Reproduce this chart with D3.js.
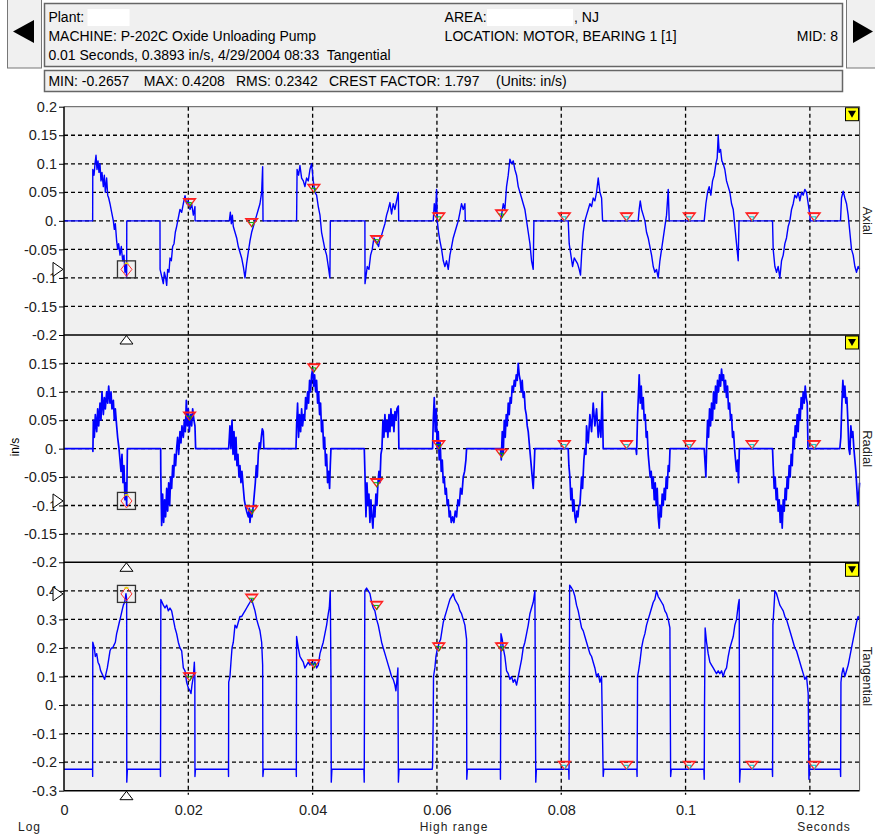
<!DOCTYPE html>
<html>
<head>
<meta charset="utf-8">
<script src="https://cdn.jsdelivr.net/npm/d3@7"></script>
<style>
  body { margin: 0; background: #fff; }
  text { font-family: "Liberation Sans", Arial, sans-serif; }
</style>
</head>
<body>
<script>
// time in ms, value in in/s
var axial = [[0,0],[4.61,0],[4.63,0.09],[4.83,0.08],[4.99,0.1],[5.15,0.115],[5.31,0.09],[5.47,0.105],[5.63,0.085],[5.79,0.1],
  [5.95,0.07],[6.11,0.085],[6.33,0.06],[6.49,0.08],[6.65,0.05],[6.86,0.075],[7.03,0.045],[7.19,0.04],[7.4,0.03],[7.67,0.015],
  [7.94,0],[8.1,-0.015],[8.26,-0.005],[8.47,-0.035],[8.63,-0.05],[8.79,-0.04],[9.01,-0.06],[9.22,-0.045],[9.44,-0.07],[9.65,-0.06],
  [9.81,-0.09],[9.97,-0.075],[10.08,-0.1],[10.1,0],[15.44,0],[15.46,-0.085],[15.98,-0.11],[16.14,-0.09],[16.36,-0.1],[16.52,-0.113],
  [16.68,-0.085],[16.89,-0.09],[17.05,-0.065],[17.27,-0.07],[17.48,-0.045],[17.7,-0.04],[17.91,-0.02],[18.12,-0.01],[18.39,0.005],
  [18.66,0.02],[18.93,0.015],[19.2,0.03],[19.47,0.044],[19.73,0.03],[20.0,0.035],[20.27,0.02],[20.54,0.03],[20.81,0.01],[21.07,0.025],
  [21.09,0],[26.6,0],[26.76,0.015],[26.92,-0.005],[27.08,0.01],[27.24,-0.01],[27.51,-0.02],[27.78,-0.03],[28.04,-0.045],[28.31,-0.055],
  [28.58,-0.065],[28.85,-0.08],[29.12,-0.1],[29.38,-0.075],[29.65,-0.055],[29.92,-0.035],[30.19,-0.02],[30.46,-0.01],[30.73,0],
  [31.0,0.01],[31.26,0.02],[31.53,0.03],[31.8,0.05],[31.96,0.095],[32.02,0],[37.42,0],[37.5,0.09],[37.74,0.08],[37.96,0.097],
  [38.23,0.075],[38.5,0.07],[38.76,0.06],[39.03,0.075],[39.3,0.07],[39.57,0.09],[39.84,0.1],[40.1,0.07],[40.37,0.05],[40.64,0.045],
  [40.91,0.025],[41.18,0.01],[41.44,-0.02],[41.71,-0.035],[41.98,-0.05],[42.25,-0.06],[42.52,-0.08],[42.78,-0.1],[42.85,0],
  [48.41,0],[48.43,-0.11],[48.79,-0.08],[49.06,-0.085],[49.33,-0.06],[49.59,-0.05],[49.86,-0.03],[50.13,-0.035],[50.4,-0.04],
  [50.61,-0.045],[50.83,-0.03],[51.1,-0.025],[51.36,-0.015],[51.63,-0.005],[51.9,0.01],[52.17,0.02],[52.44,0.032],[52.7,0.012],
  [52.97,0.03],[53.24,0.02],[53.51,0.035],[53.78,0.05],[53.85,0],[59.41,0],[59.57,0.03],[59.78,0.015],[59.94,0.055],[60.05,0],
  [60.26,-0.02],[60.48,-0.035],[60.75,-0.05],[61.02,-0.07],[61.28,-0.08],[61.55,-0.07],[61.82,-0.085],[62.09,-0.06],[62.36,-0.045],
  [62.62,-0.03],[62.89,-0.02],[63.16,-0.01],[63.43,0],[63.7,0.015],[63.96,0.03],[64.23,0.02],[64.5,0.03],[64.56,0],[70.24,0],
  [70.4,0.01],[70.67,0.03],[70.93,0.02],[71.2,0.06],[71.47,0.08],[71.74,0.108],[72.01,0.1],[72.28,0.105],[72.54,0.09],[72.81,0.08],
  [73.08,0.06],[73.35,0.05],[73.62,0.04],[73.88,0.03],[74.15,0.02],[74.42,0],[74.69,-0.02],[74.96,-0.04],[75.22,-0.07],[75.49,-0.085],
  [75.6,0],[81.12,0],[81.28,-0.04],[81.55,-0.06],[81.82,-0.08],[82.09,-0.065],[82.36,-0.07],[82.62,-0.075],[82.89,-0.085],[83.1,-0.095],
  [83.27,-0.06],[83.54,-0.02],[83.8,0],[84.07,0.01],[84.34,0.02],[84.61,0.03],[84.88,0.025],[85.14,0.04],[85.41,0.035],[85.68,0.05],
  [85.95,0.075],[86.22,0.05],[86.49,0.04],[86.65,0],[92.38,0],[92.54,0.02],[92.71,0.035],[92.92,0.02],[93.19,0.01],[93.46,0],
  [93.72,-0.02],[93.99,-0.03],[94.26,-0.045],[94.53,-0.06],[94.8,-0.08],[95.06,-0.09],[95.33,-0.085],[95.6,-0.1],[95.87,-0.07],
  [96.14,-0.05],[96.41,-0.03],[96.67,-0.01],[96.94,0.01],[97.21,0.055],[97.37,0],[103.0,0],[103.27,0.03],[103.54,0.05],[103.8,0.06],
  [104.07,0.045],[104.34,0.07],[104.61,0.08],[104.88,0.1],[105.09,0.11],[105.25,0.15],[105.41,0.12],[105.63,0.125],[105.84,0.105],
  [106.06,0.1],[106.32,0.09],[106.59,0.07],[106.86,0.06],[107.13,0.05],[107.4,0.03],[107.67,0.02],[107.93,-0.01],[108.2,-0.04],
  [108.47,-0.07],[108.6,0],[113.99,0],[114.1,-0.05],[114.37,-0.08],[114.64,-0.09],[114.9,-0.08],[115.17,-0.1],[115.44,-0.07],
  [115.71,-0.06],[115.98,-0.04],[116.24,-0.03],[116.51,-0.01],[116.78,0],[117.05,0.02],[117.32,0.03],[117.58,0.045],[117.85,0.04],
  [118.12,0.05],[118.39,0.035],[118.66,0.05],[118.93,0.045],[119.19,0.055],[119.46,0.05],[119.73,0.03],[120.0,0.01],[120.05,0],
  [124.93,0],[125.09,0.04],[125.36,0.052],[125.63,0.04],[125.9,0.03],[126.16,0.01],[126.43,-0.02],[126.7,-0.05],[126.97,-0.06],
  [127.24,-0.08],[127.5,-0.09],[127.77,-0.08],[128,-0.085]];

var radial = [[0,0],[4.61,0],[4.65,-0.005],[4.72,0.05],[4.88,0.02],[5.04,0.06],[5.26,0.03],[5.42,0.07],[5.58,0.04],[5.79,0.08],
  [5.95,0.05],[6.11,0.1],[6.33,0.06],[6.49,0.09],[6.65,0.07],[6.86,0.1],[7.03,0.08],[7.19,0.11],[7.4,0.08],[7.56,0.1],[7.72,0.07],
  [7.94,0.085],[8.1,0.05],[8.26,0.07],[8.47,0.04],[8.63,0.02],[8.85,0],[9.01,-0.02],[9.17,-0.04],[9.33,-0.01],[9.49,-0.06],
  [9.65,-0.03],[9.81,-0.09],[9.97,-0.06],[10.08,-0.1],[10.2,0],[15.55,0],[15.57,-0.04],[15.71,-0.135],[15.87,-0.08],[16.03,-0.13],
  [16.19,-0.09],[16.35,-0.12],[16.52,-0.07],[16.68,-0.11],[16.84,-0.06],[17.0,-0.1],[17.16,-0.05],[17.32,-0.07],[17.48,-0.03],
  [17.64,-0.05],[17.8,-0.01],[17.96,-0.03],[18.12,0],[18.28,0.02],[18.45,-0.01],[18.66,0.03],[18.82,0.01],[18.98,0.04],[19.2,0.02],
  [19.36,0.05],[19.52,0.03],[19.68,0.085],[19.84,0.04],[20.0,0.07],[20.16,0.03],[20.38,0.06],[20.54,0.04],[20.7,0.07],[20.91,0.05],
  [21.07,0.04],[21.18,0],[26.49,0],[26.6,0.02],[26.7,0.04],[26.86,0],[27.03,0.05],[27.19,-0.01],[27.35,0.03],[27.51,-0.02],
  [27.67,0.02],[27.83,-0.03],[27.99,-0.01],[28.15,-0.05],[28.31,-0.03],[28.47,-0.06],[28.63,-0.04],[28.85,-0.07],[29.01,-0.09],
  [29.17,-0.1],[29.38,-0.11],[29.65,-0.12],[29.81,-0.105],[29.92,-0.13],[30.08,-0.11],[30.24,-0.12],[30.46,-0.1],[30.62,-0.08],
  [30.78,-0.06],[30.94,-0.03],[31.1,-0.05],[31.26,-0.01],[31.42,0.01],[31.58,0],[31.74,0.02],[31.9,0.035],[32.06,0.03],[32.16,0],
  [37.32,0],[37.42,0.04],[37.58,0.08],[37.74,0.02],[37.9,0.06],[38.07,0.03],[38.23,0.07],[38.39,0.04],[38.55,0.06],[38.71,0.05],
  [38.87,0.09],[39.03,0.07],[39.19,0.1],[39.35,0.08],[39.51,0.12],[39.67,0.1],[39.84,0.13],[40.0,0.14],[40.16,0.11],[40.32,0.13],
  [40.48,0.1],[40.64,0.12],[40.8,0.08],[40.96,0.1],[41.12,0.06],[41.28,0.08],[41.44,0.03],[41.6,0.05],[41.77,0],[41.93,0.02],
  [42.09,-0.03],[42.25,-0.01],[42.41,-0.06],[42.57,-0.04],[42.73,-0.07],[42.84,-0.03],[42.95,0],[48.31,0],[48.41,-0.04],
  [48.58,-0.12],[48.74,-0.06],[48.9,-0.1],[49.06,-0.08],[49.22,-0.13],[49.38,-0.09],[49.54,-0.12],[49.7,-0.14],[49.86,-0.1],
  [50.02,-0.12],[50.18,-0.08],[50.35,-0.1],[50.51,-0.06],[50.67,-0.04],[50.83,-0.06],[50.99,-0.01],[51.15,0],[51.31,0.05],
  [51.47,0.02],[51.63,0.06],[51.79,0.03],[51.95,0.05],[52.11,0.02],[52.28,0.06],[52.44,0.03],[52.6,0.07],[52.76,0.04],[52.92,0.06],
  [53.08,0.03],[53.24,0.065],[53.4,0.05],[53.56,0.07],[53.78,0.075],[53.88,0],[59.3,0],[59.41,0.05],[59.57,0.09],[59.73,0.03],
  [59.89,0.07],[60.05,0],[60.21,0.03],[60.37,-0.02],[60.53,0.01],[60.69,-0.04],[60.86,-0.02],[61.02,-0.06],[61.18,-0.05],
  [61.34,-0.08],[61.5,-0.07],[61.66,-0.1],[61.82,-0.09],[61.98,-0.12],[62.14,-0.11],[62.3,-0.13],[62.52,-0.12],[62.73,-0.13],
  [62.95,-0.11],[63.16,-0.12],[63.37,-0.09],[63.59,-0.1],[63.8,-0.07],[64.02,-0.08],[64.23,-0.05],[64.45,-0.04],[64.66,-0.02],
  [64.77,0],[70.24,0],[70.35,-0.02],[70.51,0.03],[70.67,-0.01],[70.83,0.05],[70.99,0.02],[71.15,0.06],[71.31,0.04],[71.47,0.08],
  [71.63,0.06],[71.79,0.09],[71.95,0.08],[72.11,0.11],[72.28,0.1],[72.44,0.12],[72.6,0.11],[72.76,0.13],[72.92,0.12],[73.08,0.15],
  [73.24,0.13],[73.4,0.12],[73.56,0.1],[73.72,0.12],[73.88,0.09],[74.04,0.1],[74.2,0.07],[74.37,0.06],[74.53,0.04],[74.69,0.03],
  [74.85,0.01],[75.01,-0.01],[75.17,-0.03],[75.33,-0.05],[75.49,-0.07],[75.65,-0.03],[75.75,0],[81.12,0],[81.23,-0.03],
  [81.39,-0.05],[81.55,-0.09],[81.71,-0.07],[81.87,-0.11],[82.03,-0.09],[82.2,-0.12],[82.36,-0.13],[82.52,-0.11],[82.68,-0.12],
  [82.84,-0.1],[83.0,-0.1],[83.27,-0.05],[83.43,-0.07],[83.64,-0.02],[83.8,0],[83.97,-0.01],[84.07,0.04],[84.34,0.01],[84.61,0.06],
  [84.88,0.03],[85.14,0.08],[85.41,0.04],[85.68,0.07],[85.95,0.02],[86.22,0.05],[86.38,0.02],[86.59,0.1],[86.75,0],[92.01,0],
  [92.12,-0.01],[92.28,0.06],[92.44,0.1],[92.54,0.13],[92.71,0.08],[92.87,0.11],[93.03,0.07],[93.19,0.09],[93.35,0.05],[93.51,0.06],
  [93.67,0.02],[93.83,0.03],[93.99,-0.01],[94.15,-0.03],[94.31,-0.05],[94.47,-0.04],[94.64,-0.07],[94.8,-0.05],[94.96,-0.09],
  [95.12,-0.06],[95.28,-0.1],[95.44,-0.07],[95.6,-0.12],[95.76,-0.14],[95.92,-0.1],[96.08,-0.12],[96.24,-0.08],[96.41,-0.1],
  [96.57,-0.07],[96.73,-0.09],[96.89,-0.05],[97.05,-0.07],[97.21,-0.03],[97.37,-0.04],[97.5,0],[103.0,0],[103.11,-0.02],
  [103.27,-0.05],[103.38,0],[103.54,0.05],[103.7,0.02],[103.86,0.07],[104.02,0.04],[104.18,0.08],[104.34,0.05],[104.5,0.1],
  [104.66,0.07],[104.82,0.11],[104.98,0.08],[105.14,0.12],[105.31,0.1],[105.47,0.13],[105.63,0.11],[105.79,0.14],[105.95,0.12],
  [106.11,0.13],[106.27,0.1],[106.43,0.12],[106.59,0.09],[106.75,0.11],[106.91,0.07],[107.08,0.08],[107.24,0.05],[107.4,0.06],
  [107.56,0.02],[107.72,0.03],[107.88,0],[108.04,-0.02],[108.2,-0.04],[108.36,-0.02],[108.52,-0.06],[108.65,0],[113.99,0],
  [114.1,-0.03],[114.26,-0.07],[114.42,-0.05],[114.58,-0.09],[114.74,-0.07],[114.9,-0.11],[115.07,-0.09],[115.23,-0.13],
  [115.39,-0.1],[115.55,-0.14],[115.71,-0.09],[115.87,-0.11],[116.03,-0.07],[116.19,-0.09],[116.35,-0.05],[116.51,-0.07],
  [116.67,-0.03],[116.83,-0.05],[117.0,-0.01],[117.16,-0.03],[117.32,0.02],[117.48,0],[117.64,0.04],[117.8,0.02],[117.96,0.06],
  [118.12,0.03],[118.28,0.07],[118.44,0.05],[118.6,0.09],[118.76,0.07],[118.93,0.1],[119.09,0.08],[119.25,0.11],[119.41,0.09],
  [119.57,0.08],[119.7,0],[124.82,0],[124.98,0.02],[125.15,0.08],[125.31,0.12],[125.47,0.09],[125.63,0.11],[125.79,0.08],
  [125.95,0.09],[126.11,0.05],[126.27,0],[126.43,-0.01],[126.59,0.04],[126.75,0.02],[126.91,0.03],[127.08,0],[127.24,-0.02],
  [127.4,-0.04],[127.56,-0.07],[127.72,-0.1],[128,-0.06]];

var tangential = [[0,-0.225],[4.6,-0.225],[4.61,-0.25],[4.63,0.22],[4.88,0.2],[5.04,0.17],[5.26,0.18],[5.47,0.15],[5.69,0.14],
  [5.9,0.12],[6.11,0.11],[6.33,0.1],[6.54,0.09],[6.76,0.11],[6.97,0.13],[7.19,0.16],[7.4,0.19],[7.61,0.2],[7.83,0.2],[8.04,0.21],
  [8.26,0.22],[8.47,0.25],[8.69,0.27],[8.9,0.29],[9.12,0.31],[9.33,0.33],[9.55,0.35],[9.76,0.36],[9.97,0.39],[10.08,0.37],
  [10.1,-0.27],[10.2,-0.225],[15.5,-0.225],[15.52,-0.25],[15.55,-0.04],[15.58,0.37],[15.98,0.35],[16.25,0.34],[16.52,0.35],
  [16.78,0.33],[17.05,0.34],[17.32,0.33],[17.59,0.3],[17.86,0.27],[18.12,0.25],[18.39,0.22],[18.66,0.2],[18.93,0.19],[19.2,0.13],
  [19.47,0.12],[19.73,0.08],[20.0,0.06],[20.27,0.05],[20.43,0.04],[20.59,0.07],[20.81,0.1],[20.97,0.15],[21.05,0.1],[21.07,-0.25],
  [21.15,-0.225],[26.45,-0.225],[26.47,-0.25],[26.5,0.08],[26.7,0.1],[26.86,0.15],[27.03,0.2],[27.24,0.22],[27.51,0.28],[27.78,0.27],
  [28.04,0.29],[28.31,0.31],[28.58,0.31],[28.85,0.32],[29.12,0.33],[29.38,0.34],[29.65,0.35],[29.92,0.36],[30.19,0.37],[30.46,0.35],
  [30.73,0.33],[31.0,0.3],[31.26,0.28],[31.53,0.26],[31.8,0.22],[31.96,0.14],[32.0,-0.25],[32.1,-0.225],[37.35,-0.225],
  [37.38,-0.25],[37.42,0.24],[37.69,0.2],[37.96,0.17],[38.23,0.16],[38.5,0.15],[38.76,0.13],[39.03,0.14],[39.3,0.15],[39.57,0.14],
  [39.84,0.15],[40.1,0.14],[40.37,0.15],[40.64,0.13],[40.91,0.14],[41.18,0.18],[41.44,0.2],[41.71,0.22],[41.98,0.25],[42.25,0.28],
  [42.52,0.32],[42.68,0.34],[42.84,0.4],[42.95,0.1],[43.0,-0.27],[43.1,-0.225],[48.25,-0.225],[48.3,-0.27],[48.4,0.4],
  [48.68,0.41],[48.95,0.4],[49.22,0.39],[49.49,0.36],[49.76,0.34],[50.02,0.33],[50.29,0.3],[50.56,0.28],[50.83,0.25],[51.1,0.22],
  [51.36,0.2],[51.63,0.18],[51.9,0.16],[52.17,0.14],[52.44,0.12],[52.7,0.1],[52.97,0.09],[53.24,0.07],[53.4,0.05],[53.62,0.1],
  [53.72,0.13],[53.8,-0.27],[53.9,-0.225],[59.25,-0.225],[59.3,-0.21],[59.4,-0.05],[59.45,0.1],[59.67,0.13],[59.84,0.17],
  [60.0,0.19],[60.16,0.2],[60.37,0.22],[60.59,0.23],[60.8,0.26],[61.02,0.29],[61.28,0.31],[61.55,0.33],[61.82,0.35],[62.09,0.37],
  [62.36,0.38],[62.62,0.39],[62.89,0.37],[63.16,0.36],[63.43,0.35],[63.7,0.33],[63.96,0.32],[64.23,0.3],[64.5,0.28],[64.77,0.23],
  [64.8,-0.26],[64.9,-0.225],[70.2,-0.225],[70.22,-0.26],[70.3,0.25],[70.51,0.23],[70.67,0.2],[70.93,0.17],[71.2,0.12],[71.47,0.11],
  [71.74,0.09],[72.01,0.1],[72.28,0.08],[72.54,0.09],[72.81,0.07],[73.08,0.1],[73.35,0.13],[73.62,0.16],[73.88,0.2],[74.15,0.22],
  [74.42,0.25],[74.69,0.28],[74.96,0.32],[75.22,0.34],[75.49,0.36],[75.76,0.4],[75.9,-0.27],[76.0,-0.225],[81.2,-0.225],
  [81.25,-0.26],[81.35,0.42],[81.66,0.41],[81.93,0.4],[82.2,0.38],[82.46,0.35],[82.73,0.33],[83.0,0.3],[83.27,0.27],[83.54,0.26],
  [83.8,0.24],[84.07,0.22],[84.34,0.2],[84.61,0.18],[84.88,0.17],[85.14,0.15],[85.41,0.13],[85.68,0.1],[85.95,0.11],[86.22,0.08],
  [86.49,0.1],[86.65,-0.12],[86.75,-0.25],[86.85,-0.225],[92.15,-0.225],[92.2,-0.25],[92.28,0.1],[92.44,0.12],[92.65,0.15],
  [92.92,0.2],[93.19,0.23],[93.46,0.25],[93.72,0.28],[93.99,0.3],[94.26,0.32],[94.53,0.34],[94.8,0.36],[95.06,0.37],[95.33,0.4],
  [95.6,0.38],[95.87,0.37],[96.14,0.36],[96.41,0.35],[96.67,0.33],[96.94,0.32],[97.21,0.3],[97.48,0.27],[97.6,-0.25],[97.7,-0.225],
  [102.95,-0.225],[103.0,-0.26],[103.05,0],[103.15,0.27],[103.38,0.22],[103.64,0.18],[103.91,0.15],[104.18,0.14],[104.45,0.13],
  [104.72,0.12],[104.98,0.11],[105.25,0.12],[105.52,0.11],[105.79,0.12],[106.06,0.1],[106.32,0.12],[106.59,0.13],[106.86,0.17],
  [107.13,0.2],[107.4,0.22],[107.67,0.24],[107.93,0.28],[108.2,0.3],[108.47,0.35],[108.63,0.37],[108.7,-0.27],[108.8,-0.225],
  [113.95,-0.225],[114.0,-0.25],[114.05,0.28],[114.3,0.37],[114.37,0.4],[114.64,0.39],[114.9,0.37],[115.17,0.35],[115.44,0.34],
  [115.71,0.33],[115.98,0.31],[116.24,0.3],[116.51,0.28],[116.78,0.26],[117.05,0.24],[117.32,0.22],[117.58,0.2],[117.85,0.19],
  [118.12,0.17],[118.39,0.15],[118.66,0.13],[118.93,0.11],[119.19,0.09],[119.46,0.1],[119.73,0.04],[119.85,-0.26],[119.95,-0.225],
  [124.9,-0.225],[124.95,-0.25],[125.0,0.08],[125.15,0.11],[125.36,0.13],[125.63,0.1],[125.9,0.12],[126.16,0.14],[126.43,0.17],
  [126.7,0.2],[126.97,0.23],[127.24,0.26],[127.5,0.29],[127.77,0.31],[128,0.3]];

// harmonic markers (ms) and their values per channel
var harmonicTimes = [20.2, 30.2, 40.2, 50.3, 60.3, 70.4, 80.5, 90.5, 100.6, 110.7, 120.7];
var axialMarks = [0.025, -0.01, 0.05, -0.04, 0, 0.005, 0, 0, 0, 0, 0];
var radialMarks = [0.05, -0.115, 0.135, -0.067, 0, -0.015, 0, 0, 0, 0, 0];
var tangentialMarks = [0.085, 0.36, 0.13, 0.335, 0.19, 0.19, -0.225, -0.225, -0.225, -0.225, -0.225];

var cursorTime = 10.05;
var cursorValues = [-0.085, -0.092, 0.3893];

var axialTicks = [0.2, 0.15, 0.1, 0.05, 0, -0.05, -0.1, -0.15, -0.2];
var radialTicks = [0.15, 0.1, 0.05, 0, -0.05, -0.1, -0.15, -0.2];
var tangentialTicks = [0.4, 0.3, 0.2, 0.1, 0, -0.1, -0.2, -0.3];
var timeTicks = [0, 20, 40, 60, 80, 100, 120];

var width = 875, height = 836;
var plotLeft = 64, plotRight = 859.6, plotTop = 106.7, plotBottom = 790.7;

var panels = [
  { name: "Axial", data: axial, domain: [-0.2, 0.2], ticks: axialTicks, marks: axialMarks, top: 106.7, bottom: 335, lw: 1.4 },
  { name: "Radial", data: radial, domain: [-0.2, 0.2], ticks: radialTicks, marks: radialMarks, top: 335, bottom: 562.3, lw: 1.7 },
  { name: "Tangential", data: tangential, domain: [-0.3, 0.5], ticks: tangentialTicks, marks: tangentialMarks, top: 562.3, bottom: 790.7, lw: 1.4 }
];

var svg = d3.select("body")
    .append("svg")
    .attr("width", width)
    .attr("height", height);

var x = d3.scaleLinear().domain([0, 128]).range([plotLeft, plotRight]);

// header buttons
svg.append("rect").attr("x", 7.5).attr("y", -1).attr("width", 34).attr("height", 69)
    .attr("fill", "#f0f0f0").attr("stroke", "#777");
svg.append("path").attr("d", "M13,31.5L34,20L34,43Z").attr("fill", "#000");
svg.append("rect").attr("x", 846.5).attr("y", -1).attr("width", 34).attr("height", 69)
    .attr("fill", "#f0f0f0").attr("stroke", "#777");
svg.append("path").attr("d", "M853,20L853,43L873,31.5Z").attr("fill", "#000");

// header boxes
svg.append("rect").attr("x", 44.5).attr("y", 3.5).attr("width", 798).attr("height", 63)
    .attr("fill", "#f0f0f0").attr("stroke", "#666").attr("stroke-width", 1.5);
svg.append("rect").attr("x", 44.5).attr("y", 70.5).attr("width", 798).attr("height", 21)
    .attr("fill", "#f0f0f0").attr("stroke", "#666").attr("stroke-width", 1.5);

// header texts: [text, x, baseline, anchor]
var headerTexts = [
  ["Plant:", 48.4, 22, "start"],
  ["AREA:", 444.6, 22, "start"],
  [", NJ", 574, 22, "start"],
  ["MACHINE: P-202C Oxide Unloading Pump", 48.4, 41, "start"],
  ["LOCATION: MOTOR, BEARING 1 [1]", 444.6, 41, "start"],
  ["MID: 8", 838, 41, "end"],
  ["0.01 Seconds, 0.3893 in/s, 4/29/2004 08:33  Tangential", 48.4, 60, "start"],
  ["MIN: -0.2657", 48.4, 86, "start"],
  ["MAX: 0.4208", 143.8, 86, "start"],
  ["RMS: 0.2342", 236, 86, "start"],
  ["CREST FACTOR: 1.797", 329, 86, "start"],
  ["(Units: in/s)", 496, 86, "start"]
];
svg.append("g").selectAll("text")
    .data(headerTexts)
    .enter().append("text")
    .attr("x", function (d) { return d[1]; })
    .attr("y", function (d) { return d[2]; })
    .attr("text-anchor", function (d) { return d[3]; })
    .attr("font-size", "14px")
    .attr("fill", "#000")
    .style("white-space", "pre")
    .text(function (d) { return d[0]; });

// redacted fields
svg.append("rect").attr("x", 87.5).attr("y", 9).attr("width", 42).attr("height", 17).attr("fill", "#fff");
svg.append("rect").attr("x", 487).attr("y", 9).attr("width", 86).attr("height", 17).attr("fill", "#fff");

// plot background
svg.append("rect").attr("x", plotLeft).attr("y", plotTop)
    .attr("width", plotRight - plotLeft).attr("height", plotBottom - plotTop)
    .attr("fill", "#f0f0f0");

// vertical grid
svg.append("g").selectAll("line")
    .data(timeTicks.filter(function (d) { return d > 0; }))
    .enter().append("line")
    .attr("x1", function (d) { return x(d); })
    .attr("x2", function (d) { return x(d); })
    .attr("y1", plotTop)
    .attr("y2", plotBottom + 4)
    .attr("stroke", "#000")
    .attr("stroke-width", 1.3)
    .attr("stroke-dasharray", "4,3");

var line = d3.line();

panels.forEach(function (p, i) {
  var y = d3.scaleLinear().domain(p.domain).range([p.bottom, p.top]);

  // horizontal grid
  svg.append("g").selectAll("line")
      .data(p.ticks.filter(function (d) { return y(d) > p.top + 1 && y(d) < p.bottom - 1; }))
      .enter().append("line")
      .attr("x1", plotLeft)
      .attr("x2", plotRight)
      .attr("y1", function (d) { return y(d); })
      .attr("y2", function (d) { return y(d); })
      .attr("stroke", "#000")
      .attr("stroke-width", 1.3)
      .attr("stroke-dasharray", "4,3");

  // y axis
  var yAxis = d3.axisLeft(y)
      .tickValues(p.ticks)
      .tickSize(5)
      .tickFormat(function (d) { return d === 0 ? "0." : String(d); });
  var ga = svg.append("g")
      .attr("transform", "translate(" + plotLeft + ",0)")
      .call(yAxis);
  ga.select(".domain").remove();
  ga.selectAll("text")
      .attr("font-family", "Liberation Sans, Arial, sans-serif")
      .attr("font-size", "14.5px")
      .attr("fill", "#222")
      .attr("x", -7);
  ga.selectAll("line").attr("stroke", "#000");

  // waveform
  svg.append("path")
      .datum(p.data)
      .attr("fill", "none")
      .attr("stroke", "#0000ff")
      .attr("stroke-width", p.lw)
      .attr("stroke-linejoin", "round")
      .attr("d", line.x(function (d) { return x(d[0]); }).y(function (d) { return y(d[1]); }));

  // harmonic markers
  var hm = svg.append("g");
  harmonicTimes.forEach(function (t, k) {
    var cx = x(t), cy = y(p.marks[k]);
    hm.append("path")
        .attr("d", "M" + (cx - 6) + "," + (cy - 8) + "L" + (cx + 6) + "," + (cy - 8) + "L" + cx + "," + cy + "Z")
        .attr("fill", "none").attr("stroke", "#ff2020").attr("stroke-width", 1.3);
    hm.append("line")
        .attr("x1", cx - 5).attr("x2", cx + 5).attr("y1", cy - 7.5).attr("y2", cy - 7.5)
        .attr("stroke", "#ff2020").attr("stroke-width", 1.5);
    hm.append("path")
        .attr("d", "M" + (cx - 3) + "," + (cy - 4) + "L" + (cx + 2) + "," + (cy - 4) + "L" + cx + "," + (cy + 0.5))
        .attr("fill", "none").attr("stroke", k < 6 ? "#00b000" : "#00c8c8").attr("stroke-width", 1);
  });

  // cursor box and diamond
  var cx = x(cursorTime), cy = y(cursorValues[i]);
  svg.append("rect").attr("x", cx - 9).attr("y", cy - 8.5).attr("width", 18).attr("height", 17)
      .attr("fill", "none").attr("stroke", "#333").attr("stroke-width", 1.3);
  svg.append("path")
      .attr("d", "M" + cx + "," + (cy - 7) + "L" + (cx + 5.5) + "," + cy + "L" + cx + "," + (cy + 7) + "L" + (cx - 5.5) + "," + cy + "Z")
      .attr("fill", "none").attr("stroke", "#ff3030").attr("stroke-width", 1);
  svg.append("line").attr("x1", cx - 2).attr("x2", cx + 2).attr("y1", cy - 6).attr("y2", cy - 6)
      .attr("stroke", "#e0e000").attr("stroke-width", 1.5);

  // left value pointer
  svg.append("path")
      .attr("d", "M53," + (cy - 7) + "L63," + cy + "L53," + (cy + 7) + "Z")
      .attr("fill", "#fff").attr("stroke", "#000").attr("stroke-width", 1);

  // bottom time pointer
  svg.append("path")
      .attr("d", "M" + (cx - 6.5) + "," + (p.bottom + 9) + "L" + (cx + 6.5) + "," + (p.bottom + 9) + "L" + cx + "," + (p.bottom + 0.5) + "Z")
      .attr("fill", "#fff").attr("stroke", "#000").attr("stroke-width", 1);

  // yellow scale marker
  svg.append("rect").attr("x", 845.5).attr("y", p.top + 1).attr("width", 13).attr("height", 13)
      .attr("fill", "#ffff00").attr("stroke", "#000").attr("stroke-width", 1);
  svg.append("path")
      .attr("d", "M848," + (p.top + 4) + "L856," + (p.top + 4) + "L852," + (p.top + 11) + "Z")
      .attr("fill", "#000");

  // channel label on the right
  svg.append("text")
      .attr("transform", "translate(862.5," + ((p.top + p.bottom) / 2) + ") rotate(90)")
      .attr("text-anchor", "middle")
      .attr("font-size", "13px")
      .attr("fill", "#222")
      .text(p.name);

  // panel separator
  svg.append("line").attr("x1", plotLeft).attr("x2", plotRight)
      .attr("y1", p.bottom).attr("y2", p.bottom)
      .attr("stroke", "#000").attr("stroke-width", 1.5);
});

// frame
svg.append("line").attr("x1", plotLeft).attr("x2", plotRight).attr("y1", plotTop).attr("y2", plotTop)
    .attr("stroke", "#555");
svg.append("line").attr("x1", plotRight).attr("x2", plotRight).attr("y1", plotTop).attr("y2", plotBottom)
    .attr("stroke", "#555");
svg.append("line").attr("x1", plotLeft).attr("x2", plotLeft).attr("y1", plotTop).attr("y2", plotBottom)
    .attr("stroke", "#000").attr("stroke-width", 1.5);

// x axis
var xAxis = d3.axisBottom(x)
    .tickValues(timeTicks)
    .tickSize(0)
    .tickPadding(14)
    .tickFormat(function (d) { return String(d / 1000); });
var gx = svg.append("g")
    .attr("transform", "translate(0," + plotBottom + ")")
    .call(xAxis);
gx.select(".domain").remove();
gx.selectAll("text")
    .attr("font-family", "Liberation Sans, Arial, sans-serif")
    .attr("font-size", "14.5px")
    .attr("fill", "#222");

// y unit label
svg.append("text")
    .attr("transform", "translate(18.5,447) rotate(-90)")
    .attr("text-anchor", "middle")
    .attr("font-size", "12px")
    .text("in/s");

// bottom labels
var foot = svg.append("g")
    .attr("font-family", "DejaVu Sans, Verdana, sans-serif")
    .attr("font-size", "12px")
    .attr("letter-spacing", "1px")
    .attr("fill", "#222");
foot.append("text").attr("x", 18).attr("y", 831).text("Log");
foot.append("text").attr("x", 454).attr("y", 831).attr("text-anchor", "middle").text("High range");
foot.append("text").attr("x", 824).attr("y", 831).attr("text-anchor", "middle").text("Seconds");
</script>
</body>
</html>
